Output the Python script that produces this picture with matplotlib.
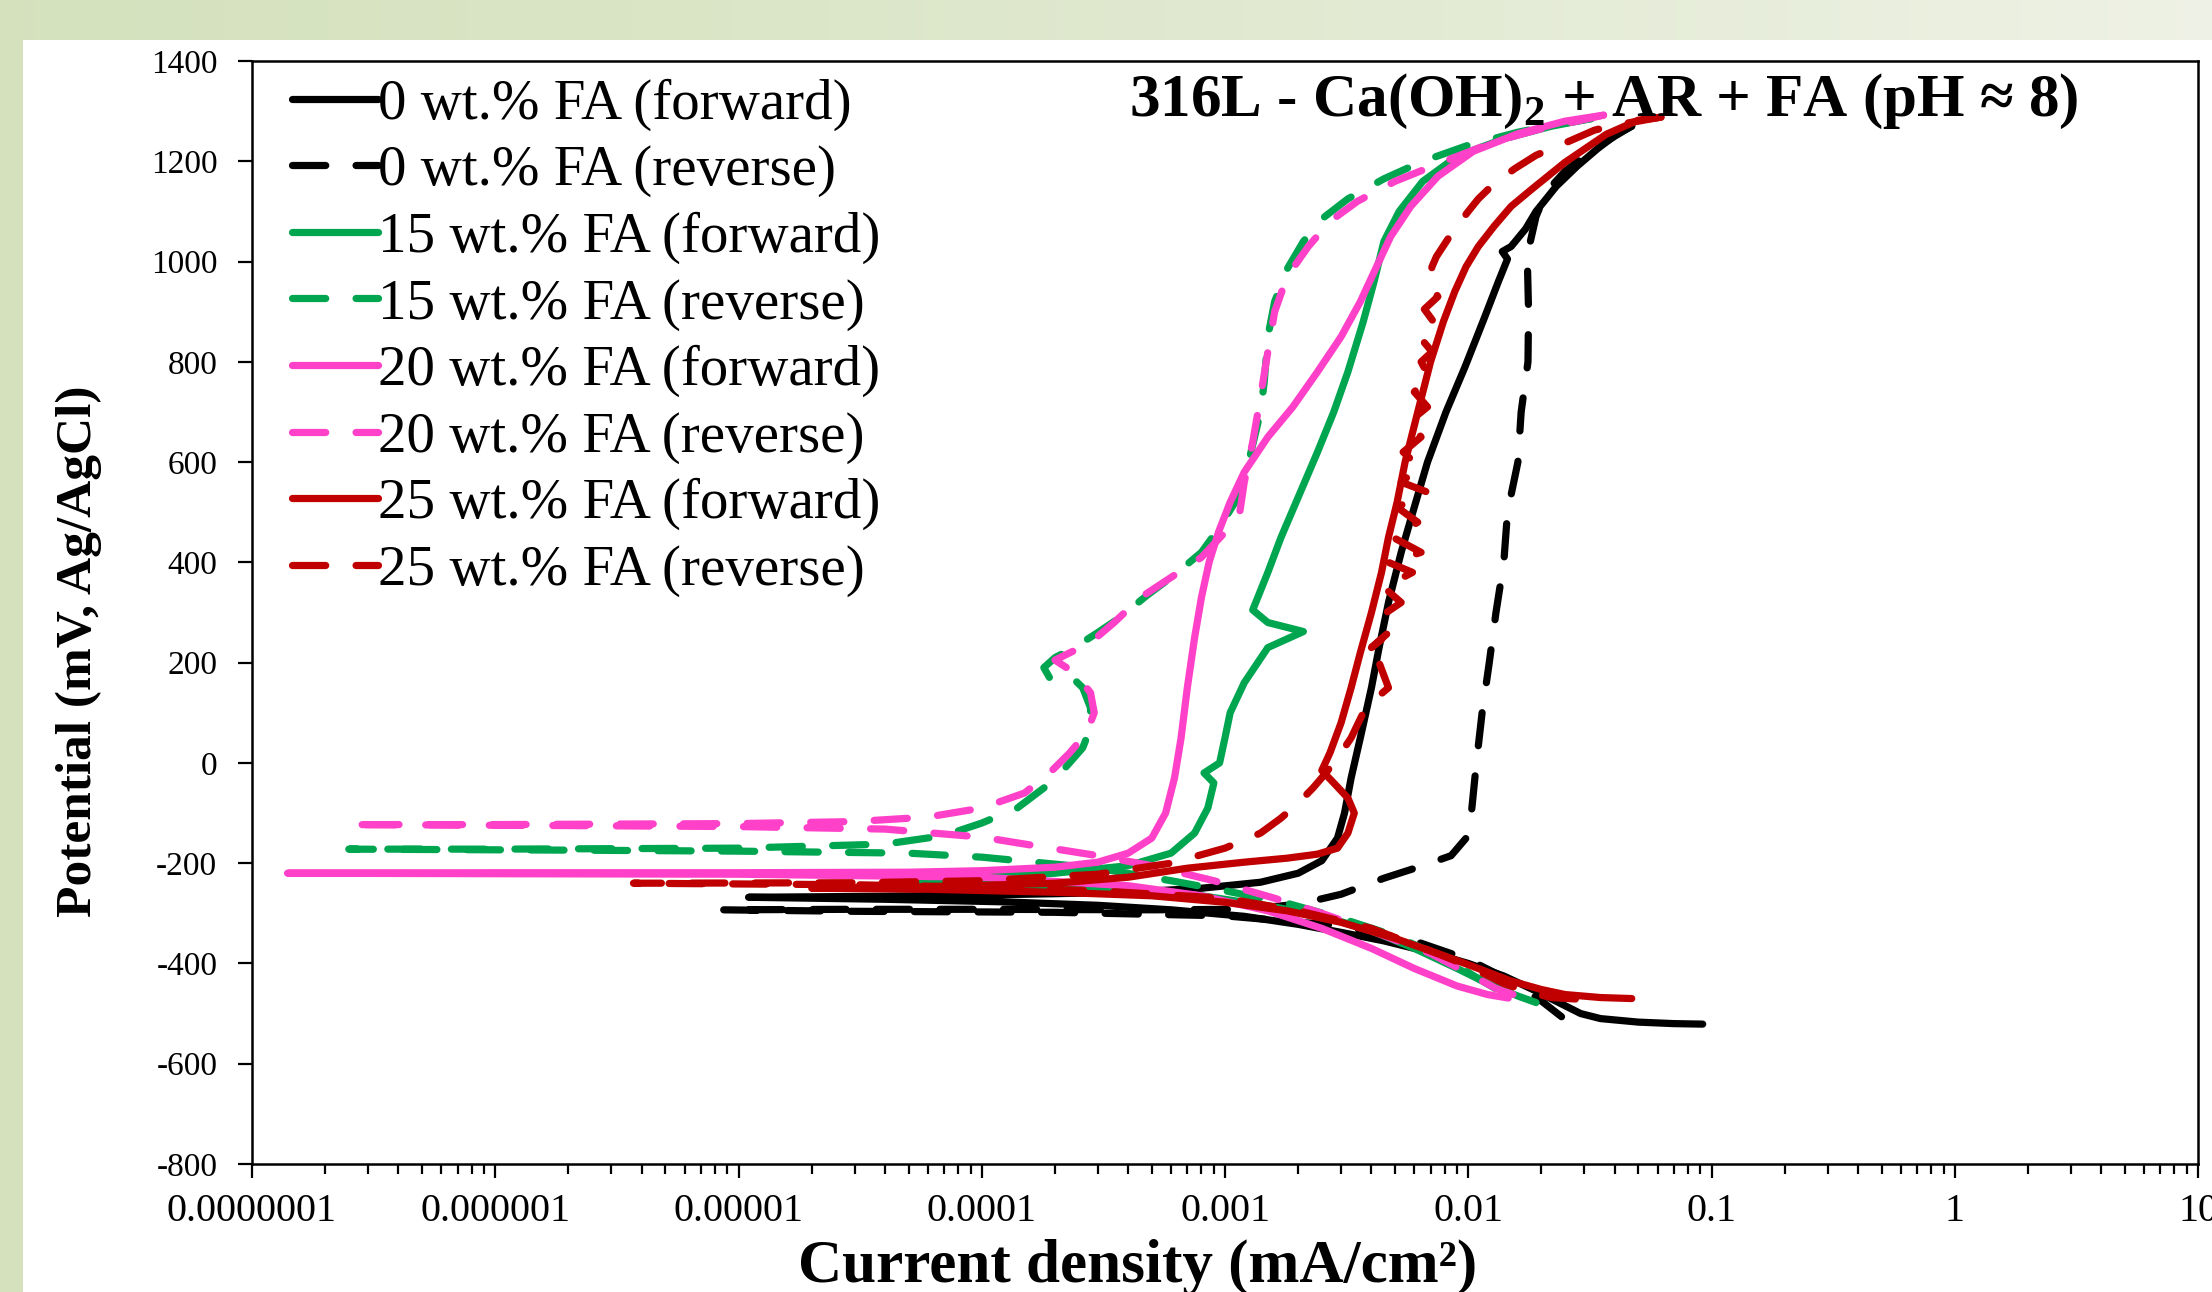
import numpy as np
import matplotlib.pyplot as plt
from matplotlib.patches import Rectangle
from matplotlib.ticker import FixedLocator, FixedFormatter, LogLocator, NullFormatter

plt.rcParams['font.family'] = ['Liberation Serif', 'DejaVu Serif']
plt.rcParams['mathtext.fontset'] = 'custom'
plt.rcParams['mathtext.rm'] = 'Liberation Serif'
plt.rcParams['mathtext.bf'] = 'Liberation Serif:bold'

# current density (mA/cm2) and potential (mV, Ag/AgCl)
i_0_fwd = [0.092, 0.07, 0.05, 0.035, 0.029, 0.024, 0.019, 0.014, 0.010, 0.007, 0.0045, 0.003, 0.002,
           0.0012, 0.0006, 0.0003, 0.00012, 0.00004, 0.000011,
           0.00004, 0.00015, 0.0004, 0.0008, 0.0014, 0.002, 0.0025, 0.0029, 0.0031, 0.0033, 0.0036,
           0.004, 0.0043, 0.0047, 0.0053, 0.006, 0.0068, 0.0081, 0.0097, 0.0117, 0.0133, 0.0145,
           0.0138, 0.015, 0.0172, 0.019, 0.023, 0.028, 0.034, 0.041, 0.047]
v_0_fwd = [-521, -520, -517, -510, -500, -480, -455, -425, -400, -378, -355, -338, -322,
           -306, -293, -284, -277, -272, -268,
           -266, -262, -258, -250, -238, -220, -195, -150, -100, -30, 50,
           150, 230, 320, 420, 510, 600, 700, 790, 890, 960, 1005,
           1020, 1030, 1065, 1100, 1150, 1190, 1225, 1255, 1270]

i_0_rev = [0.047, 0.04, 0.032, 0.025, 0.021, 0.019, 0.018, 0.0175, 0.0177, 0.0176, 0.0165, 0.016,
           0.0145, 0.014, 0.013, 0.0122, 0.0114, 0.0108, 0.0103, 0.0098, 0.0085, 0.0065, 0.0045,
           0.003, 0.002, 0.0012, 0.0005, 0.0001, 0.00003, 0.0000085,
           0.00003, 0.0002, 0.001, 0.003, 0.006, 0.01, 0.015, 0.02, 0.024, 0.027]
v_0_rev = [1270, 1250, 1220, 1180, 1140, 1090, 1040, 1000, 900, 800, 700, 600,
           500, 400, 300, 200, 100, 0, -100, -150, -185, -205, -230,
           -262, -282, -292, -293, -292, -292, -293,
           -296, -298, -305, -325, -355, -392, -435, -475, -505, -525]

i_15_fwd = [0.019, 0.016, 0.012, 0.009, 0.006, 0.004, 0.0025, 0.0015, 0.0008, 0.0003, 0.0001, 0.00004,
            0.0001, 0.0002, 0.0004, 0.0006, 0.00075, 0.00085, 0.0009, 0.00082, 0.00095, 0.001,
            0.00105, 0.0012, 0.0015, 0.0021, 0.0015, 0.0013, 0.0015, 0.0017, 0.002, 0.0024,
            0.0028, 0.0032, 0.0037, 0.0041, 0.0045, 0.0052, 0.0065, 0.009, 0.014, 0.022, 0.032]
v_15_fwd = [-478, -465, -440, -410, -370, -335, -305, -285, -265, -250, -240, -232,
            -228, -220, -205, -180, -140, -90, -40, -20, 0, 50,
            100, 160, 230, 262, 280, 305, 380, 450, 530, 620,
            700, 780, 880, 960, 1040, 1100, 1160, 1210, 1245, 1270, 1285]

i_15_rev = [0.032, 0.024, 0.016, 0.01, 0.0065, 0.0045, 0.0032, 0.0025, 0.0021, 0.0018, 0.0016,
            0.0015, 0.00145, 0.0014, 0.00125, 0.0011, 0.00095, 0.0008, 0.00062, 0.00048, 0.00037,
            0.0003, 0.00024, 0.0002, 0.00018, 0.00019, 0.00023, 0.00026, 0.00028, 0.00028,
            0.00026, 0.00022, 0.00018, 0.00014, 0.0001, 0.00007, 0.00004, 0.00001, 0.000001, 2.5e-7,
            0.000002, 0.00001, 0.00005, 0.0001, 0.0003, 0.0006, 0.001, 0.0018, 0.003, 0.005,
            0.008, 0.011, 0.014, 0.016]
v_15_rev = [1285, 1275, 1258, 1232, 1200, 1165, 1125, 1085, 1040, 985, 920,
            850, 760, 700, 600, 520, 470, 420, 375, 335, 290,
            260, 230, 210, 190, 170, 175, 150, 110, 70,
            30, -10, -50, -90, -120, -145, -162, -170, -172, -172,
            -174, -176, -180, -188, -210, -235, -255, -280, -310, -345,
            -390, -430, -460, -478]

i_20_fwd = [0.0146, 0.012, 0.009, 0.006, 0.004, 0.0025, 0.0015, 0.0008, 0.0004, 0.0001, 0.00001,
            0.000001, 1.4e-7,
            0.000001, 0.00001, 0.00005, 0.0001, 0.0002, 0.0003, 0.0004, 0.0005, 0.00057, 0.00062,
            0.00066, 0.0007, 0.00075, 0.0008, 0.00086, 0.00094, 0.00105, 0.0012, 0.0015, 0.0019,
            0.0024, 0.003, 0.0036, 0.0042, 0.0048, 0.0058, 0.0075, 0.0105, 0.016, 0.025, 0.036]
v_20_fwd = [-469, -462, -445, -410, -370, -330, -295, -265, -245, -228, -222,
            -221, -220,
            -219, -219, -218, -215, -208, -198, -180, -150, -100, -30,
            50, 150, 250, 330, 400, 460, 520, 580, 650, 710,
            780, 850, 920, 990, 1050, 1110, 1170, 1220, 1255, 1280, 1292]

i_20_rev = [0.036, 0.028, 0.02, 0.013, 0.008, 0.005, 0.0035, 0.0027, 0.0022, 0.0018, 0.0016, 0.0015,
            0.0014, 0.0013, 0.0012, 0.00115, 0.001, 0.0008, 0.0006, 0.00045, 0.00035, 0.00028,
            0.00022, 0.0002, 0.00024, 0.00028, 0.00029, 0.00027, 0.00023, 0.00019, 0.00015,
            0.0001, 0.00006, 0.00003, 0.00001, 0.000001, 2.5e-7,
            0.000002, 0.00001, 0.00004, 0.0001, 0.00018, 0.0003, 0.0005, 0.0009, 0.0016, 0.0025,
            0.004, 0.007, 0.01, 0.013, 0.016]
v_20_rev = [1292, 1280, 1265, 1240, 1200, 1160, 1120, 1080, 1030, 970, 900, 820,
            730, 640, 560, 500, 460, 410, 370, 330, 280, 240,
            215, 205, 180, 140, 100, 60, 20, -20, -60,
            -90, -108, -117, -121, -123, -123,
            -125, -127, -132, -148, -168, -185, -205, -235, -270, -300,
            -335, -380, -420, -450, -465]

i_25_fwd = [0.047, 0.035, 0.025, 0.02, 0.015, 0.011, 0.008, 0.005, 0.003, 0.0018, 0.001, 0.0005,
            0.0002, 0.00006, 0.00002,
            0.00006, 0.0002, 0.0004, 0.0007, 0.0012, 0.0018, 0.0024, 0.0029, 0.0032, 0.0034,
            0.0032, 0.0028, 0.0025, 0.0027, 0.003, 0.0033, 0.0036, 0.004, 0.0044, 0.0047, 0.0051,
            0.0055, 0.0062, 0.007, 0.0079, 0.0088, 0.0098, 0.011, 0.0128, 0.015, 0.018, 0.025,
            0.037, 0.05, 0.062]
v_25_fwd = [-470, -468, -462, -452, -435, -410, -385, -350, -318, -295, -278, -265,
            -258, -252, -250,
            -247, -240, -228, -210, -198, -190, -182, -170, -140, -100,
            -70, -40, -15, 20, 80, 150, 220, 300, 380, 450, 520,
            600, 700, 800, 880, 940, 990, 1030, 1071, 1110, 1142, 1198,
            1254, 1282, 1288]

i_25_rev = [0.062, 0.05, 0.04, 0.033, 0.026, 0.019, 0.0155, 0.0128, 0.011, 0.01, 0.0088, 0.0082,
            0.0074, 0.0071, 0.0069, 0.0075, 0.0066, 0.0072, 0.0063, 0.0071, 0.0064, 0.0069, 0.006,
            0.0068, 0.0057, 0.0064, 0.0054, 0.0063, 0.0053, 0.0068, 0.0051, 0.0062, 0.0049, 0.0064,
            0.0047, 0.0059, 0.0045, 0.0053, 0.0043, 0.0047, 0.004, 0.0045, 0.0043, 0.0047, 0.0042,
            0.0037, 0.0033, 0.003, 0.0026, 0.0023, 0.002, 0.0017, 0.0014, 0.001, 0.0006, 0.0003,
            0.0001, 0.00003, 0.0000037,
            0.00003, 0.0001, 0.0003, 0.001, 0.002, 0.004, 0.007, 0.01, 0.014, 0.018, 0.022, 0.03]
v_25_rev = [1288, 1280, 1272, 1262, 1240, 1212, 1185, 1156, 1125, 1100, 1065, 1043,
            1010, 990, 960, 930, 905, 880, 850, 820, 800, 770, 740,
            710, 680, 650, 620, 590, 560, 540, 510, 480, 450, 420,
            400, 380, 350, 320, 290, 260, 230, 250, 200, 150, 130,
            100, 50, 20, -20, -50, -80, -110, -140, -170, -200, -222,
            -235, -239, -240,
            -243, -248, -255, -270, -295, -330, -375, -405, -440, -458, -468, -472]

labels = ['0 wt.% FA (forward)', '0 wt.% FA (reverse)',
          '15 wt.% FA (forward)', '15 wt.% FA (reverse)',
          '20 wt.% FA (forward)', '20 wt.% FA (reverse)',
          '25 wt.% FA (forward)', '25 wt.% FA (reverse)']
x_tick_labels = ['0.0000001', '0.000001', '0.00001', '0.0001', '0.001', '0.01', '0.1', '1', '10']

series = [(i_0_fwd, v_0_fwd), (i_0_rev, v_0_rev), (i_15_fwd, v_15_fwd), (i_15_rev, v_15_rev),
          (i_20_fwd, v_20_fwd), (i_20_rev, v_20_rev), (i_25_fwd, v_25_fwd), (i_25_rev, v_25_rev)]
colors = ['#000000', '#000000', '#00a550', '#00a550', '#ff40c8', '#ff40c8', '#c00000', '#c00000']

W, H = 2212, 1292
fig = plt.figure(figsize=(W / 100, H / 100), dpi=100)
fig.patch.set_facecolor('white')

# slide background bands
top = fig.add_axes([0, 1 - 40 / H, 1, 40 / H], zorder=-5)
grad = np.linspace(0, 1, 256)
c0 = np.array([0.835, 0.886, 0.745])
c1 = np.array([0.935, 0.948, 0.900])
img = c0[None, :] + (c1 - c0)[None, :] * grad[:, None] ** 1.3
top.imshow(img[None, :, :], aspect='auto', extent=(0, 1, 0, 1))
top.axis('off')
fig.add_artist(Rectangle((0, 0), 23 / W, 1, transform=fig.transFigure,
                         facecolor='#d4e1bc', edgecolor='none', zorder=-4))

ax = fig.add_axes([252 / W, 1 - 1164 / H, 1946 / W, 1103 / H])
for k, (cur, pot) in enumerate(series):
    if k % 2 == 0:
        ax.plot(cur, pot, color=colors[k], lw=5.2, label=labels[k],
                solid_capstyle='round', solid_joinstyle='round')
    else:
        ax.plot(cur, pot, color=colors[k], lw=5.2, label=labels[k],
                ls=(0, (4.6, 4.2)), dash_capstyle='round', dash_joinstyle='round')

ax.set_xscale('log')
ax.set_xlim(1e-7, 10)
ax.set_ylim(-800, 1400)
ax.xaxis.set_major_locator(FixedLocator([10.0 ** p for p in range(-7, 2)]))
ax.xaxis.set_major_formatter(FixedFormatter(x_tick_labels))
ax.xaxis.set_minor_locator(LogLocator(base=10, subs=np.arange(2, 10), numticks=20))
ax.xaxis.set_minor_formatter(NullFormatter())
ax.set_yticks(range(-800, 1401, 200))
ax.set_yticklabels([str(v) for v in range(-800, 1401, 200)])

ax.tick_params(axis='y', which='major', direction='out', length=10, width=1.6, labelsize=24, pad=15)
ax.tick_params(axis='x', which='major', direction='out', length=10, width=1.6, labelsize=29, pad=11)
ax.tick_params(axis='x', which='minor', direction='out', length=7, width=1.6)
for s in ax.spines.values():
    s.set_linewidth(1.8)

ax.set_xlabel('Current density (mA/cm²)', fontsize=44, fontweight='bold')
ax.xaxis.set_label_coords(0.455, -0.068)
ax.set_ylabel('Potential (mV, Ag/AgCl)', fontsize=37, fontweight='bold')
ax.yaxis.set_label_coords(-0.077, 0.465)

ax.text(0.4507, 0.9637, r'316L - Ca(OH)$_\mathbf{2}$ + AR + FA (pH ≈ 8)', transform=ax.transAxes,
        fontsize=44, fontweight='bold', ha='left', va='center')

ax.legend(loc='upper left', bbox_to_anchor=(0.0206, 0.984), frameon=False, fontsize=41,
          handlelength=1.51, handletextpad=0.0, labelspacing=0.25, borderpad=0, borderaxespad=0)

fig.savefig('out.png', dpi=100, facecolor=fig.get_facecolor())
